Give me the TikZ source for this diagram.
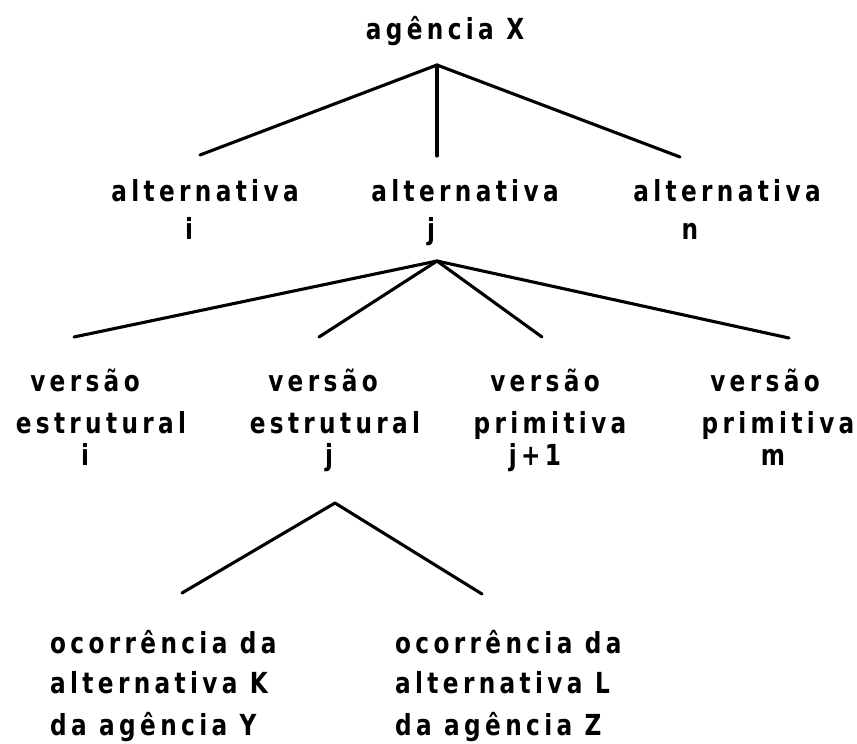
\documentclass[tikz,border=0pt]{standalone}
\usepackage{fontspec}
\newfontfamily\lblfont{DejaVu Sans}[FakeStretch=0.8,LetterSpace=15]
\begin{document}
\begin{tikzpicture}[x=1pt,y=-1pt,
  lbl/.style={font=\lblfont\bfseries\fontsize{29}{34}\selectfont, inner sep=0pt, anchor=base},
  lblw/.style={lbl, anchor=base west},
  branch/.style={line width=3.1pt, line cap=round, line join=round}]
\useasboundingbox (0,0) rectangle (857,744);

% level 0
\node[lbl] (root) at (445,39) {agência X};
\coordinate (j0) at (437,65);

% level 1: alternatives
\node[lbl] (altI)  at (205,201) {alternativa};
\node[lbl] (altIs) at (189,239) {i};
\node[lbl] (altJ)  at (465,201) {alternativa};
\node[lbl] (altJs) at (431,239) {j};
\node[lbl] (altN)  at (727,201) {alternativa};
\node[lbl] (altNs) at (690,239) {n};
\coordinate (e0a) at (200,155);
\coordinate (e0b) at (437,156);
\coordinate (e0c) at (680,157);
\coordinate (j1) at (437,261);

% level 2: versions
\node[lbl] (vI1) at (85,391)  {versão};
\node[lbl] (vI2) at (101,433) {estrutural};
\node[lbl] (vI3) at (85,465)  {i};
\node[lbl] (vJ1) at (323,391) {versão};
\node[lbl] (vJ2) at (335,433) {estrutural};
\node[lbl] (vJ3) at (329,465) {j};
\node[lbl] (vK1) at (545,391) {versão};
\node[lbl] (vK2) at (550,433) {primitiva};
\node[lbl] (vK3) at (535,465) {j+1};
\node[lbl] (vM1) at (765,391) {versão};
\node[lbl] (vM2) at (778,433) {primitiva};
\node[lbl] (vM3) at (773,465) {m};
\coordinate (e1a) at (74,337);
\coordinate (e1b) at (319,337);
\coordinate (e1c) at (542,337);
\coordinate (e1d) at (789,338);
\coordinate (j2) at (335,503);

% level 3: occurrences
\node[lblw] (oK1) at (50,653) {ocorrência da};
\node[lblw] (oK2) at (50,693) {alternativa K};
\node[lblw] (oK3) at (50,735) {da agência Y};
\node[lblw] (oL1) at (395,653) {ocorrência da};
\node[lblw] (oL2) at (395,693) {alternativa L};
\node[lblw] (oL3) at (395,735) {da agência Z};
\coordinate (e2a) at (182,593);
\coordinate (e2b) at (482,594);

% branches
\draw[branch] (e0a) -- (j0) -- (e0c);
\draw[branch] (j0) -- (e0b);
\draw[branch] (e1a) -- (j1) -- (e1d);
\draw[branch] (e1b) -- (j1) -- (e1c);
\draw[branch] (e2a) -- (j2) -- (e2b);
\end{tikzpicture}
\end{document}
